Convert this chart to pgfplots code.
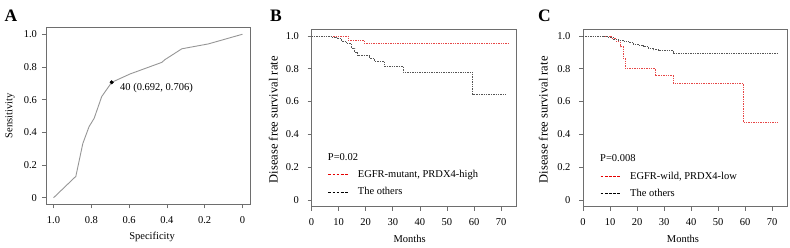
\documentclass[border=0pt]{standalone}
\usepackage{fontspec}
\setmainfont{Liberation Serif}
\usepackage{pgfplots}
\pgfplotsset{compat=1.18}

\definecolor{rocgray}{RGB}{150,150,150}
\definecolor{kmred}{RGB}{230,70,70}
\definecolor{kmblack}{RGB}{85,85,85}
\definecolor{boxgray}{RGB}{110,110,110}

\pgfplotsset{
  myaxis/.style={
    scale only axis,
    anchor=south west,
    axis line style={boxgray, line width=0.6pt},
    tick style={boxgray, line width=0.6pt},
    tick align=outside,
    tick pos=left,
    major tick length=4pt,
    ticklabel style={font=\fontsize{10.5}{12}\selectfont, text=black},
    xticklabel style={yshift=-4.5pt},
    label style={font=\fontsize{10.5}{12}\selectfont},
    /pgf/number format/assume math mode=true,
    ytick={0,0.2,0.4,0.6,0.8,1},
    yticklabels={0,0.2,0.4,0.6,0.8,1.0},
    ymin=-0.04, ymax=1.04,
  },
  kmaxis/.style={
    myaxis,
    xmin=0, xmax=75.5,
    xtick={0,10,20,30,40,50,60,70},
    yticklabel style={xshift=-5pt},
    xlabel={Months},
    ylabel={Disease free survival rate},
    ylabel style={font=\fontsize{12.5}{14}\selectfont},
    legend style={draw=none, fill=none, inner sep=0pt, font=\fontsize{10.5}{12}\selectfont,
      row sep=4.5pt},
    legend cell align=left,
    legend image code/.code={\draw[##1] (0pt,0pt) -- (20pt,0pt); \path (27pt,0pt);},
  },
  kmred/.style={const plot, color=kmred, line width=0.7pt, dash pattern=on 1.4pt off 1pt,
    legend image post style={dash pattern=on 2.8pt off 1.3pt, line width=0.9pt, color=red!90!black}},
  kmblack/.style={const plot, color=kmblack, line width=0.7pt, dash pattern=on 1.4pt off 1pt,
    legend image post style={dash pattern=on 2.8pt off 1.3pt, line width=0.9pt, color=black}},
}

\begin{document}
\begin{tikzpicture}
\useasboundingbox (0pt,0pt) rectangle (790pt,247pt);

% Panel letters
\node[anchor=base west, inner sep=0pt, font=\fontsize{17.5}{18}\selectfont\bfseries] at (4.5pt,225.5pt) {A};
\node[anchor=base west, inner sep=0pt, font=\fontsize{17.5}{18}\selectfont\bfseries] at (270pt,225.5pt) {B};
\node[anchor=base west, inner sep=0pt, font=\fontsize{17.5}{18}\selectfont\bfseries] at (538pt,225.5pt) {C};

% ---------------- Panel A: ROC ----------------
\begin{axis}[myaxis,
  at={(46pt,42.7pt)}, width=204pt, height=176.6pt,
  x dir=reverse,
  xmin=-0.04, xmax=1.04,
  xtick={0,0.2,0.4,0.6,0.8,1},
  xticklabels={0,0.2,0.4,0.6,0.8,1.0},
  yticklabel style={xshift=-1.5pt},
  xlabel={Specificity}, ylabel={Sensitivity},
  xlabel style={at={(axis description cs:0.52,-0.185)}, anchor=center},
  ylabel style={at={(axis description cs:-0.176,0.5)}, anchor=center},
]
\addplot[rocgray, line width=0.9pt] coordinates {
 (1.0,0) (0.882,0.131) (0.845,0.332) (0.812,0.435) (0.785,0.486)
 (0.745,0.619) (0.692,0.706) (0.595,0.757) (0.427,0.828) (0.41,0.845)
 (0.321,0.911) (0.18,0.941) (0,1.0)
};
\addplot[only marks, mark=*, mark size=1.8pt, black] coordinates {(0.692,0.706)};
\node[anchor=west, inner sep=0pt, font=\fontsize{10.5}{12}\selectfont] at (axis cs:0.648,0.671) {40 (0.692, 0.706)};
\end{axis}

% ---------------- Panel B ----------------
\begin{axis}[kmaxis,
  at={(311.5pt,40.3pt)}, width=204.5pt, height=177.4pt,
  xlabel style={at={(axis description cs:0.48,-0.184)}, anchor=center},
  ylabel style={at={(axis description cs:-0.187,0.49)}, anchor=center},
  legend style={at={(axis cs:6.0,0.195)}, anchor=north west},
]
\addplot[kmred] coordinates {
 (0,1) (13.5,0.974) (19.4,0.953) (73.2,0.953)
};
\addlegendentry{EGFR-mutant, PRDX4-high}
\addplot[kmblack] coordinates {
 (0,1) (7.4,0.992) (9.3,0.982) (11.1,0.968) (12.9,0.953) (14.8,0.927)
 (16,0.902) (17,0.88) (21.5,0.862) (23.3,0.846) (26.8,0.815) (33.8,0.78)
 (59.5,0.645) (71.6,0.645)
};
\addlegendentry{The others}
\node[anchor=west, inner sep=0pt, font=\fontsize{10.5}{12}\selectfont] at (axis cs:6.0,0.263) {P=0.02};
\end{axis}

% ---------------- Panel C ----------------
\begin{axis}[kmaxis,
  at={(583pt,40.3pt)}, width=204pt, height=177.4pt,
  xlabel style={at={(axis description cs:0.49,-0.184)}, anchor=center},
  ylabel style={at={(axis description cs:-0.195,0.49)}, anchor=center},
  legend style={at={(axis cs:6.3,0.185)}, anchor=north west},
]
\addplot[kmred] coordinates {
 (0,1) (10.5,0.985) (12.2,0.965) (13.8,0.934) (14.8,0.862) (15.7,0.80)
 (26.7,0.758) (33.4,0.71) (59.4,0.473) (72.1,0.473)
};
\addlegendentry{EGFR-wild, PRDX4-low}
\addplot[kmblack] coordinates {
 (0,1) (7.5,0.995) (9.4,0.991) (11.2,0.981) (13.1,0.975) (14.9,0.969)
 (16.8,0.961) (18.6,0.951) (20.5,0.945) (22.3,0.934) (24.2,0.924)
 (26,0.915) (27.9,0.91) (33.4,0.893) (72.1,0.893)
};
\addlegendentry{The others}
\node[anchor=west, inner sep=0pt, font=\fontsize{10.5}{12}\selectfont] at (axis cs:6.3,0.254) {P=0.008};
\end{axis}
\end{tikzpicture}
\end{document}
